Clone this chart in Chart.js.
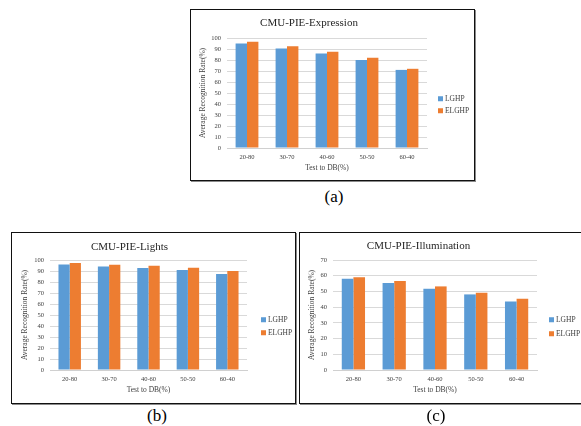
<!DOCTYPE html>
<html>
<head>
<meta charset="utf-8">
<script src="https://cdn.jsdelivr.net/npm/chart.js@4/dist/chart.umd.min.js"></script>
<style>
  html, body { margin:0; padding:0; background:#fff; width:581px; height:426px; overflow:hidden; position:relative; font-family:'Liberation Serif', serif; }
  .box { position:absolute; border:1px solid #111; box-shadow:1px 1px 0 #8a8a8a; background:#fff; }
  .box canvas { position:absolute; left:0; top:0; }
  .cap { position:absolute; font-family:'Liberation Serif', serif; font-size:17px; color:#000; transform:translate(-50%,-50%); white-space:nowrap; }
  .leg { position:absolute; font-family:'Liberation Serif', serif; font-size:7.5px; color:#404040; white-space:nowrap; line-height:1; transform:translateY(-50%); }
  .leg span.sq { display:inline-block; width:5px; height:5px; margin-right:2px; vertical-align:middle; position:relative; top:-1px; }
</style>
</head>
<body>
<div class="box" id="boxA" style="left:190px;top:9px;width:283px;height:170px;"><canvas id="cA" width="283" height="170"></canvas></div>
<div class="box" id="boxB" style="left:11px;top:232px;width:283px;height:170px;"><canvas id="cB" width="283" height="170"></canvas></div>
<div class="box" id="boxC" style="left:299px;top:232px;width:283px;height:170px;"><canvas id="cC" width="283" height="170"></canvas></div>
<div class="cap" style="left:334px;top:197px;">(a)</div>
<div class="cap" style="left:157px;top:416px;">(b)</div>
<div class="cap" style="left:436px;top:416px;">(c)</div>
<script>
// ---- data ----
const categories = ['20-80', '30-70', '40-60', '50-50', '60-40'];
const seriesNames = ['LGHP', 'ELGHP'];
const expressionLGHP  = [95.0, 90.4, 85.8, 80.0, 71.0];
const expressionELGHP = [96.6, 92.4, 87.6, 82.0, 72.0];
const lightsLGHP      = [96.0, 94.2, 92.8, 90.9, 87.2];
const lightsELGHP     = [97.3, 95.7, 94.8, 93.0, 90.0];
const illumLGHP       = [58.1, 55.3, 51.7, 48.1, 43.6];
const illumELGHP      = [59.0, 56.6, 53.2, 49.1, 45.3];
const titles = ['CMU-PIE-Expression', 'CMU-PIE-Lights', 'CMU-PIE-Illumination'];
const xTitle = 'Test to DB(%)';
const yTitle = 'Average Recognition Rate(%)';
const yMaxes = [100, 100, 70];
const colors = ['#5B9BD5', '#ED7D31'];

const FONT = "'Liberation Serif', serif";

function makeChart(id, title, a, b, yMax, L) {
  const ctx = document.getElementById(id);
  const chart = new Chart(ctx, {
    type: 'bar',
    data: {
      labels: categories,
      datasets: [
        { label: seriesNames[0], data: a, backgroundColor: colors[0], borderWidth: 0, barPercentage: 1.0, categoryPercentage: 0.57 },
        { label: seriesNames[1], data: b, backgroundColor: colors[1], borderWidth: 0, barPercentage: 1.0, categoryPercentage: 0.57 }
      ]
    },
    options: {
      responsive: false,
      animation: false,
      devicePixelRatio: 1,
      layout: { padding: { left: 0, right: L.padRight, top: 0, bottom: 0 } },
      plugins: {
        legend: { display: false },
        tooltip: { enabled: false },
        title: {
          display: true, text: title, color: '#262626',
          font: { family: FONT, size: 11, weight: 'normal' },
          padding: { top: L.titleTop, bottom: L.titleBottom }
        }
      },
      scales: {
        x: {
          grid: { display: false, drawTicks: false },
          border: { display: true, color: '#d0d0d0' },
          ticks: { padding: 5, color: '#404040', font: { family: FONT, size: 6.5 }, maxRotation: 0 },
          title: { display: true, text: xTitle, color: '#404040', font: { family: FONT, size: 7.5 }, padding: { top: 0, bottom: L.xTitlePad } },
          afterFit: function (s) { s.height = L.xHeight; }
        },
        y: {
          min: 0, max: yMax,
          grid: { color: '#d9d9d9', drawTicks: false },
          border: { display: false },
          ticks: { stepSize: 10, padding: 6, color: '#404040', font: { family: FONT, size: 6.5 } },
          title: { display: true, text: yTitle, color: '#404040', font: { family: FONT, size: 7.5 }, padding: { top: L.yTitlePad, bottom: 0 } },
          afterFit: function (s) { s.width = L.yWidth; }
        }
      }
    }
  });
  // legend as text beside the chart, generated from the datasets
  const box = ctx.parentElement;
  chart.data.datasets.forEach(function (ds, i) {
    const d = document.createElement('div');
    d.className = 'leg';
    d.style.left = L.legX + 'px';
    d.style.top = L.legY[i] + 'px';
    d.innerHTML = '<span class="sq" style="background:' + ds.backgroundColor + '"></span>' + ds.label;
    box.appendChild(d);
  });
  return chart;
}

makeChart('cA', titles[0], expressionLGHP, expressionELGHP, yMaxes[0],
  { padRight: 47, titleTop: 6.4, titleBottom: 8.4, xHeight: 32, xTitlePad: 7.5, yTitlePad: 7.5, yWidth: 36, legX: 247, legY: [89, 101] });
makeChart('cB', titles[1], lightsLGHP, lightsELGHP, yMaxes[1],
  { padRight: 48, titleTop: 7.4, titleBottom: 6.4, xHeight: 33, xTitlePad: 8.5, yTitlePad: 8.5, yWidth: 38, legX: 249, legY: [87, 100] });
makeChart('cC', titles[2], illumLGHP, illumELGHP, yMaxes[2],
  { padRight: 46, titleTop: 6.4, titleBottom: 7.4, xHeight: 33, xTitlePad: 8.5, yTitlePad: 7.5, yWidth: 33, legX: 249, legY: [87, 101] });
</script>
</body>
</html>
